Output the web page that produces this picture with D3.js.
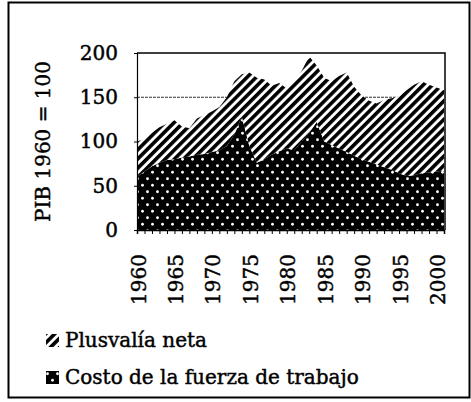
<!DOCTYPE html>
<html>
<head>
<meta charset="utf-8">
<script src="https://cdn.jsdelivr.net/npm/d3@7"></script>
<style>
  html, body { margin: 0; padding: 0; background: #fff; }
  svg { display: block; }
</style>
</head>
<body>
<svg id="chart" width="471" height="402"></svg>
<script>
// ---- data ----
const years = [1960,1961,1962,1963,1964,1965,1966,1967,1968,1969,
               1970,1971,1972,1973,1974,1975,1976,1977,1978,1979,
               1980,1981,1982,1983,1984,1985,1986,1987,1988,1989,
               1990,1991,1992,1993,1994,1995,1996,1997,1998,1999,
               2000,2001];
const costoFuerzaTrabajo = [60,66,72,76,79,80,82,83,85,86,
                            88,90,95,108,128,95,76,80,85,89,
                            92,90,100,110,122,100,96,92,88,84,
                            80,77,74,71,68,64,61,62,64,65,
                            66,67];
const plusvaliaNeta = [40,37,38,40,41,44,35,32,41,44,
                       46,49,55,60,48,83,96,90,78,77,
                       68,77,80,86,64,72,72,82,90,78,
                       72,69,69,76,81,87,97,102,104,99,
                       95,91];
const yTicks = [0,50,100,150,200];
const xTickLabels = [1960,1965,1970,1975,1980,1985,1990,1995,2000];
const seriesNames = ["Plusvalía neta", "Costo de la fuerza de trabajo"];
const yTitle = "PIB 1960 = 100";

// ---- layout ----
const FONT = "DejaVu Serif, Liberation Serif, serif";
const svg = d3.select("#chart");
const L = 137, R = 445, T = 53, B = 230;
const x = d3.scaleLinear().domain([1960, 2001]).range([L, R - 1]);
const y = d3.scaleLinear().domain([0, 200]).range([B, T]);

// patterns
const defs = svg.append("defs");
const stripes = defs.append("pattern").attr("id", "stripes")
  .attr("patternUnits", "userSpaceOnUse").attr("width", 6.5).attr("height", 6.5)
  .attr("patternTransform", "rotate(45)");
stripes.append("rect").attr("width", 6.5).attr("height", 6.5).attr("fill", "#fff");
stripes.append("rect").attr("width", 3.6).attr("height", 6.5).attr("fill", "#000");

const dots = defs.append("pattern").attr("id", "dots")
  .attr("patternUnits", "userSpaceOnUse").attr("width", 10).attr("height", 13);
dots.append("rect").attr("width", 10).attr("height", 13).attr("fill", "#000");
dots.append("circle").attr("cx", 2.5).attr("cy", 3.25).attr("r", 1.4).attr("fill", "#fff");
dots.append("circle").attr("cx", 7.5).attr("cy", 9.75).attr("r", 1.4).attr("fill", "#fff");

// outer border
svg.append("rect").attr("x", 8.5).attr("y", 2.5).attr("width", 461).attr("height", 395)
  .attr("fill", "none").attr("stroke", "#000").attr("stroke-width", 2);

// gridlines
svg.append("g").selectAll("line").data(yTicks.filter(d => d > 0 && d < 200)).join("line")
  .attr("x1", L).attr("x2", R).attr("y1", d => y(d)).attr("y2", d => y(d))
  .attr("stroke", "#333").attr("stroke-width", 1.2).attr("stroke-dasharray", "3,1");

// stacked areas
const table = years.map((yr, i) => ({ year: yr, costo: costoFuerzaTrabajo[i], plus: plusvaliaNeta[i] }));
const stack = d3.stack().keys(["costo", "plus"]);
const layers = stack(table);
const area = d3.area().x(d => x(d.data.year)).y0(d => y(d[0])).y1(d => y(d[1]));
svg.append("g").selectAll("path").data(layers).join("path")
  .attr("d", area)
  .attr("fill", (d, i) => i === 0 ? "url(#dots)" : "url(#stripes)");

// frame top & right
svg.append("path").attr("d", `M${L},${T}H${R}V${B}`).attr("fill", "none")
  .attr("stroke", "#000").attr("stroke-width", 1.5);

// y axis
const yAxis = svg.append("g").attr("transform", `translate(${L},0)`)
  .call(d3.axisLeft(y).tickValues(yTicks).tickSize(3).tickPadding(16));
yAxis.select(".domain").attr("stroke", "#000").attr("stroke-width", 1.2);
yAxis.selectAll("text")
  .attr("font-size", 20).attr("font-family", FONT)
  .attr("fill", "#000").attr("stroke", "#000").attr("stroke-width", 0.45);

// x axis: a tick every year, a rotated label every 5 years
const xAxis = svg.append("g").attr("transform", `translate(0,${B})`)
  .call(d3.axisBottom(x).tickValues(years).tickSize(4)
        .tickFormat(d => xTickLabels.includes(d) ? String(d) : ""));
xAxis.select(".domain").attr("stroke", "#000").attr("stroke-width", 1.5);
xAxis.selectAll(".tick line").attr("stroke", "#000").attr("stroke-width", 1);
xAxis.selectAll(".tick text")
  .attr("font-size", 20).attr("font-family", FONT)
  .attr("fill", "#000").attr("stroke", "#000").attr("stroke-width", 0.45)
  .attr("text-anchor", "end")
  .attr("x", -24).attr("y", 1).attr("dy", "0.35em")
  .attr("transform", "rotate(-90)");

// y title
svg.append("text")
  .attr("transform", `translate(50,${(T + B) / 2}) rotate(-90)`)
  .attr("text-anchor", "middle")
  .attr("font-size", 20).attr("font-family", FONT)
  .attr("fill", "#000").attr("stroke", "#000").attr("stroke-width", 0.45)
  .text(yTitle);

// legend
const legend = svg.append("g");
const lg = [{ name: seriesNames[0], fill: "url(#stripes)", y: 347 },
            { name: seriesNames[1], fill: "url(#dots)", y: 384 }];
legend.selectAll("rect").data(lg).join("rect")
  .attr("x", 46).attr("y", d => d.y - 13).attr("width", 13).attr("height", 13)
  .attr("fill", d => d.fill);
legend.selectAll("text").data(lg).join("text")
  .attr("x", 65).attr("y", d => d.y)
  .attr("font-size", 20).attr("font-family", FONT)
  .attr("fill", "#000").attr("stroke", "#000").attr("stroke-width", 0.45)
  .text(d => d.name);
</script>
</body>
</html>
